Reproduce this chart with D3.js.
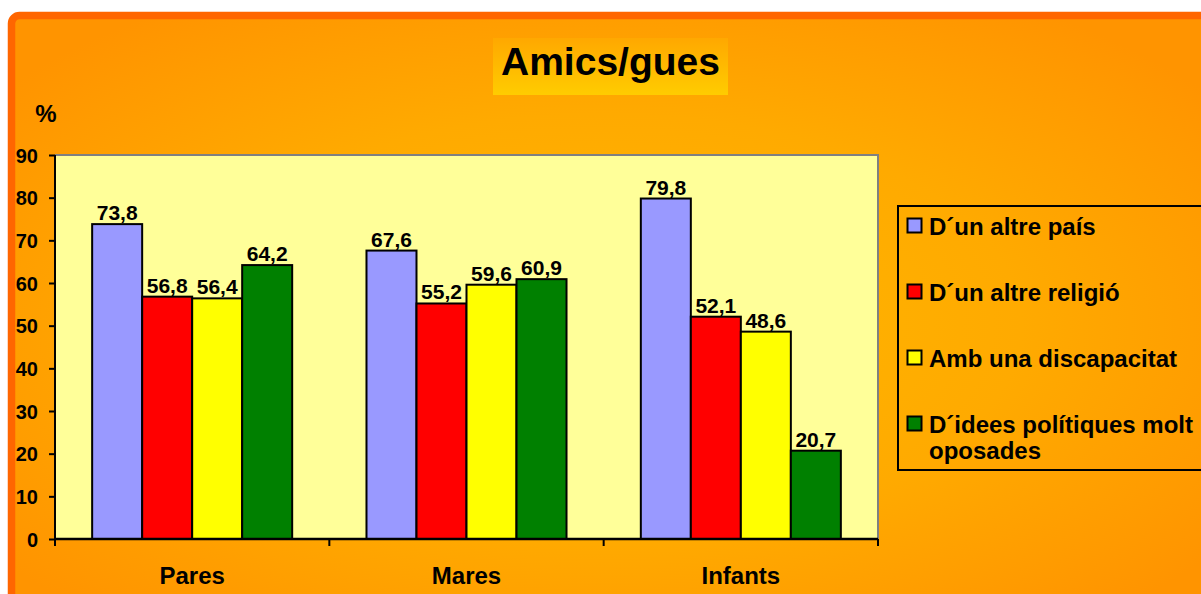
<!DOCTYPE html>
<html>
<head>
<meta charset="utf-8">
<script src="https://cdn.jsdelivr.net/npm/d3@7"></script>
<style>
  html, body { margin: 0; padding: 0; background: #ffffff; }
  svg { display: block; }
  text { font-family: "Liberation Sans", Arial, sans-serif; font-weight: bold; fill: #000; }
</style>
</head>
<body>
<script>
// Friendship survey: share (%) with a friend of each kind, by group
const categories = ["Pares", "Mares", "Infants"];
const seriesNames = [
  "D´un altre país",
  "D´un altre religió",
  "Amb una discapacitat",
  "D´idees polítiques molt oposades"
];
const altrePais = [73.8, 67.6, 79.8];
const altreReligio = [56.8, 55.2, 52.1];
const ambDiscapacitat = [56.4, 59.6, 48.6];
const ideesPolitiques = [64.2, 60.9, 20.7];
const yTicks = [0, 10, 20, 30, 40, 50, 60, 70, 80, 90];
const seriesColors = ["#9999FF", "#FF0000", "#FFFF00", "#008000"];

const seriesValues = [altrePais, altreReligio, ambDiscapacitat, ideesPolitiques];
const rows = categories.map((c, i) => ({
  category: c,
  values: seriesNames.map((s, k) => ({ series: s, k, value: seriesValues[k][i] }))
}));

const W = 1201, H = 594;
const plot = { left: 55, right: 878, top: 155, bottom: 539 };

const svg = d3.select("body").append("svg").attr("width", W).attr("height", H);
const defs = svg.append("defs");

// Frame background: orange with a lighter centre
const bg = defs.append("radialGradient").attr("id", "frameFill")
  .attr("cx", "0.48").attr("cy", "0.5").attr("r", "0.62");
bg.append("stop").attr("offset", "0").attr("stop-color", "#FFB800");
bg.append("stop").attr("offset", "0.55").attr("stop-color", "#FFAA00");
bg.append("stop").attr("offset", "1").attr("stop-color", "#FF9400");

const tg = defs.append("linearGradient").attr("id", "titleFill")
  .attr("x1", 0).attr("y1", 0).attr("x2", 0).attr("y2", 1);
tg.append("stop").attr("offset", "0").attr("stop-color", "#FFA800");
tg.append("stop").attr("offset", "1").attr("stop-color", "#FFCC00");

svg.append("rect")
  .attr("x", 11.5).attr("y", 15.5)
  .attr("width", 1230).attr("height", 620)
  .attr("rx", 8)
  .attr("fill", "url(#frameFill)")
  .attr("stroke", "#FF6600").attr("stroke-width", 7.5);

// Title
svg.append("rect").attr("x", 493).attr("y", 38).attr("width", 235).attr("height", 57)
  .attr("fill", "url(#titleFill)");
svg.append("text").attr("x", 610.5).attr("y", 75)
  .attr("text-anchor", "middle").style("font-size", "39px")
  .text("Amics/gues");

// Scales
const x0 = d3.scaleBand().domain(categories).range([plot.left, plot.right]).padding(0);
const x1 = d3.scaleBand().domain(seriesNames).range([0, x0.bandwidth()])
  .paddingInner(0).paddingOuter(0.743);
const y = d3.scaleLinear().domain([0, 90]).range([plot.bottom, plot.top]);

// Plot area
svg.append("rect")
  .attr("x", plot.left).attr("y", plot.top)
  .attr("width", plot.right - plot.left).attr("height", plot.bottom - plot.top)
  .attr("fill", "#FFFF99");
svg.append("path")
  .attr("d", `M${plot.left},${plot.top}H${plot.right}V${plot.bottom}`)
  .attr("fill", "none").attr("stroke", "#808080").attr("stroke-width", 2);

// Bars
const groups = svg.append("g").selectAll("g").data(rows).join("g")
  .attr("transform", d => `translate(${x0(d.category)},0)`);

groups.selectAll("rect").data(d => d.values).join("rect")
  .attr("x", d => x1(d.series))
  .attr("y", d => y(d.value))
  .attr("width", x1.bandwidth())
  .attr("height", d => y(0) - y(d.value))
  .attr("fill", d => seriesColors[d.k])
  .attr("stroke", "#000").attr("stroke-width", 2);

const fmt = d3.formatLocale({ decimal: ",", thousands: ".", grouping: [3], currency: ["", "€"] }).format(".1f");
groups.selectAll("text.val").data(d => d.values).join("text")
  .attr("class", "val")
  .attr("x", d => x1(d.series) + x1.bandwidth() / 2)
  .attr("y", d => y(d.value) - 4)
  .attr("text-anchor", "middle")
  .style("font-size", "21px")
  .text(d => fmt(d.value));

// Y axis
const yAxis = svg.append("g").attr("transform", `translate(${plot.left},0)`)
  .call(d3.axisLeft(y).tickValues(yTicks).tickSize(6).tickPadding(11).tickSizeOuter(0));
yAxis.select(".domain").attr("stroke", "#000").attr("stroke-width", 2)
  .attr("d", `M0,${plot.top}V${plot.bottom + 6}`);
yAxis.selectAll(".tick line").attr("stroke", "#000").attr("stroke-width", 2);
yAxis.selectAll(".tick text").style("font-size", "20px").style("font-family", null)
  .attr("dy", "0.36em");
yAxis.attr("font-family", null).attr("font-size", null);

svg.append("text").attr("x", 46).attr("y", 122).attr("text-anchor", "middle")
  .style("font-size", "24px").text("%");

// X axis: ticks at category boundaries
const boundaries = categories.map(c => x0(c)).concat([x0.range()[1]]);
const xAxis = svg.append("g");
xAxis.append("line")
  .attr("x1", plot.left).attr("x2", plot.right)
  .attr("y1", plot.bottom).attr("y2", plot.bottom)
  .attr("stroke", "#000").attr("stroke-width", 2.5);
xAxis.selectAll("line.tick").data(boundaries).join("line")
  .attr("class", "tick")
  .attr("x1", d => d).attr("x2", d => d)
  .attr("y1", plot.bottom).attr("y2", plot.bottom + 7)
  .attr("stroke", "#000").attr("stroke-width", 2);
xAxis.selectAll("text").data(categories).join("text")
  .attr("x", d => x0(d) + x0.bandwidth() / 2)
  .attr("y", 584)
  .attr("text-anchor", "middle")
  .style("font-size", "24px")
  .text(d => d);

// Legend
const legend = svg.append("g");
legend.append("rect").attr("x", 898).attr("y", 206).attr("width", 400).attr("height", 264)
  .attr("fill", "none").attr("stroke", "#000").attr("stroke-width", 2);

const legendMaxWidth = 272;
const items = legend.selectAll("g.item").data(seriesNames).join("g")
  .attr("class", "item")
  .attr("transform", (d, i) => `translate(0,${226 + i * 66})`);
items.append("rect")
  .attr("x", 907.5).attr("y", -7.5).attr("width", 14).attr("height", 14)
  .attr("fill", (d, i) => seriesColors[i])
  .attr("stroke", "#000").attr("stroke-width", 2);
items.append("text")
  .attr("x", 929).attr("y", 8.5)
  .style("font-size", "24px")
  .each(function (d) {
    const t = d3.select(this);
    const words = d.split(" ");
    let line = [];
    let tspan = t.append("tspan").attr("x", 929).attr("dy", 0);
    let lineNo = 0;
    words.forEach(w => {
      line.push(w);
      tspan.text(line.join(" "));
      if (tspan.node().getComputedTextLength() > legendMaxWidth && line.length > 1) {
        line.pop();
        tspan.text(line.join(" "));
        line = [w];
        lineNo++;
        tspan = t.append("tspan").attr("x", 929).attr("dy", "1.1em").text(w);
      }
    });
  });
</script>
</body>
</html>
